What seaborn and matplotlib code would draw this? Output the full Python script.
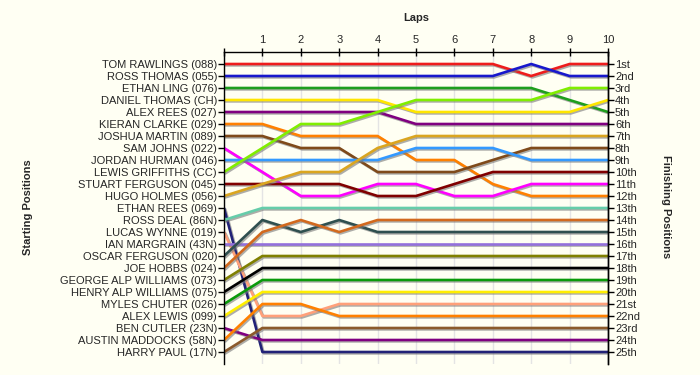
import matplotlib
matplotlib.use("Agg")
from matplotlib import pyplot as plt
import matplotlib.patheffects as pe
import pandas as pd
import seaborn as sns

laps = list(range(11))

drivers = [
    "TOM RAWLINGS (088)", "ROSS THOMAS (055)", "ETHAN LING (076)", "DANIEL THOMAS (CH)",
    "ALEX REES (027)", "KIERAN CLARKE (029)", "JOSHUA MARTIN (089)", "SAM JOHNS (022)",
    "JORDAN HURMAN (046)", "LEWIS GRIFFITHS (CC)", "STUART FERGUSON (045)", "HUGO HOLMES (056)",
    "ETHAN REES (069)", "ROSS DEAL (86N)", "LUCAS WYNNE (019)", "IAN MARGRAIN (43N)",
    "OSCAR FERGUSON (020)", "JOE HOBBS (024)", "GEORGE ALP WILLIAMS (073)", "HENRY ALP WILLIAMS (075)",
    "MYLES CHUTER (026)", "ALEX LEWIS (099)", "BEN CUTLER (23N)", "AUSTIN MADDOCKS (58N)",
    "HARRY PAUL (17N)",
]

finish_labels = ["1st", "2nd", "3rd"] + [f"{n}th" for n in range(4, 21)] + ["21st", "22nd", "23rd", "24th", "25th"]

# position of each driver at laps 0..10 (drivers in starting order)
positions = [
    [1, 1, 1, 1, 1, 1, 1, 1, 2, 1, 1],
    [2, 2, 2, 2, 2, 2, 2, 2, 1, 2, 2],
    [3, 3, 3, 3, 3, 3, 3, 3, 3, 4, 5],
    [4, 4, 4, 4, 4, 5, 5, 5, 5, 5, 4],
    [5, 5, 5, 5, 5, 6, 6, 6, 6, 6, 6],
    [6, 6, 7, 7, 7, 9, 9, 11, 12, 12, 12],
    [7, 7, 8, 8, 10, 10, 10, 9, 8, 8, 8],
    [8, 10, 12, 12, 11, 11, 12, 12, 11, 11, 11],
    [9, 9, 9, 9, 9, 8, 8, 8, 9, 9, 9],
    [10, 8, 6, 6, 5, 4, 4, 4, 4, 3, 3],
    [11, 11, 11, 11, 12, 12, 11, 10, 10, 10, 10],
    [12, 11, 10, 10, 8, 7, 7, 7, 7, 7, 7],
    [13, 25, 25, 25, 25, 25, 25, 25, 25, 25, 25],
    [14, 13, 13, 13, 13, 13, 13, 13, 13, 13, 13],
    [15, 22, 22, 21, 21, 21, 21, 21, 21, 21, 21],
    [16, 16, 16, 16, 16, 16, 16, 16, 16, 16, 16],
    [17, 14, 15, 14, 15, 15, 15, 15, 15, 15, 15],
    [18, 15, 14, 15, 14, 14, 14, 14, 14, 14, 14],
    [19, 17, 17, 17, 17, 17, 17, 17, 17, 17, 17],
    [20, 18, 18, 18, 18, 18, 18, 18, 18, 18, 18],
    [21, 19, 19, 19, 19, 19, 19, 19, 19, 19, 19],
    [22, 20, 20, 20, 20, 20, 20, 20, 20, 20, 20],
    [23, 24, 24, 24, 24, 24, 24, 24, 24, 24, 24],
    [24, 21, 21, 22, 22, 22, 22, 22, 22, 22, 22],
    [25, 23, 23, 23, 23, 23, 23, 23, 23, 23, 23],
]

colors = [
    "#EE1C1C", "#1818CC", "#1E9E1E", "#FFE600", "#800080", "#FF8000", "#7F4A1A", "#FF00FF",
    "#3399FF", "#80EE00", "#800000", "#DAA520", "#222277", "#66CDAA", "#FFA07A", "#9370DB",
    "#2F4F4F", "#D2691E", "#808000", "#000000", "#0A9A0A", "#FFEE00", "#800080", "#FF8000",
    "#8B5A2B",
]

rows = []
for name, pos in zip(drivers, positions):
    for lap, p in zip(laps, pos):
        rows.append({"driver": name, "lap": lap, "pos": p})
df = pd.DataFrame(rows)

bg = "#FFFFF3"
sns.set_style("white")
plt.rcParams["font.family"] = ["Liberation Sans", "DejaVu Sans"]

fig = plt.figure(figsize=(7, 3.75), dpi=100, facecolor=bg)
ax = fig.add_axes([224 / 700, 1 - 364 / 375, 384 / 700, 312 / 375])
ax.set_facecolor(bg)

sns.lineplot(data=df, x="lap", y="pos", hue="driver", hue_order=drivers,
             palette=colors, legend=False, sort=False, linewidth=1.9, ax=ax)
for line in ax.get_lines():
    line.set_path_effects([pe.SimpleLineShadow(offset=(1, -1), shadow_color="#777777", alpha=0.6),
                           pe.Normal()])

ax.set_xlim(0, 10)
ax.set_ylim(26, 0)
ax.set_xticks(laps)
ax.set_xticklabels([""] + [str(l) for l in laps[1:]])
ax.xaxis.tick_top()
ax.tick_params(axis="x", direction="inout", length=6, width=1, labelsize=8, pad=2, color="black")
ax.set_yticks(range(1, 26))
ax.set_yticklabels(drivers)
ax.tick_params(axis="y", direction="out", length=4, width=1, labelsize=8, pad=1, color="black")
ax.grid(axis="x", color="#E4E4E4", linewidth=1)
ax.grid(axis="y", visible=False)
ax.set_xlabel("")
ax.set_ylabel("")

for side in ["bottom"]:
    ax.spines[side].set_visible(False)
for side in ["top", "left", "right"]:
    ax.spines[side].set_visible(True)
    ax.spines[side].set_color("black")
    ax.spines[side].set_linewidth(1)

ax2 = ax.twinx()
ax2.set_ylim(26, 0)
ax2.set_yticks(range(1, 26))
ax2.set_yticklabels(finish_labels)
ax2.tick_params(axis="y", direction="out", length=4, width=1, labelsize=8, pad=1, color="black")
for side in ["top", "bottom", "left"]:
    ax2.spines[side].set_visible(False)
ax2.spines["right"].set_color("black")
ax2.spines["right"].set_linewidth(1)

fig.text(416 / 700, 1 - 18 / 375, "Laps", ha="center", va="center", fontsize=8, fontweight="bold")
fig.text(28 / 700, 1 - 207 / 375, "Starting Positions", ha="center", va="center",
         rotation=90, fontsize=8, fontweight="bold")
fig.text(666 / 700, 1 - 207 / 375, "Finishing Positions", ha="center", va="center",
         rotation=270, fontsize=8, fontweight="bold")

fig.savefig("out.png", dpi=100, facecolor=bg)
